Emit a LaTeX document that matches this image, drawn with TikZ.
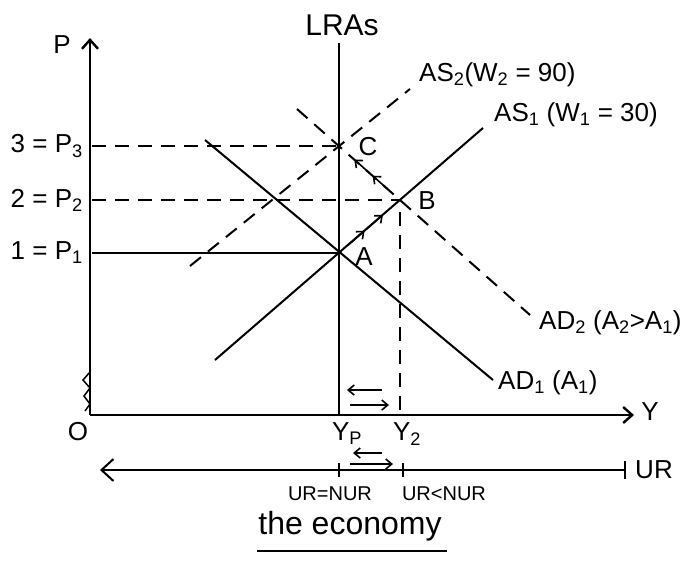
\documentclass[tikz,border=0pt]{standalone}
\usepackage{fontspec}
\setmainfont{Liberation Sans}
\usetikzlibrary{arrows.meta,calc}
\tikzset{
  axis/.style={line width=2.6pt, -{Straight Barb[length=9pt,width=16pt,line width=2.4pt]}},
  curve/.style={line width=2pt},
  dcurve/.style={line width=2pt, dash pattern=on 14pt off 9pt},
  nudge/.style={line width=1.6pt, -{Straight Barb[length=6pt,width=10pt]}},
  lbl/.style={font=\fontsize{26}{28}\selectfont, inner sep=1pt},
  small/.style={font=\fontsize{20}{22}\selectfont, inner sep=1pt},
}

\begin{document}
\begin{tikzpicture}[x=1pt,y=-1pt]
  \useasboundingbox (0,0) rectangle (688,560);
  % key points
  \coordinate (O) at (90,415);
  \coordinate (A) at (339,253);
  \coordinate (B) at (400,200);
  \coordinate (C) at (339,146);
  % axes
  \draw[axis] (O) -- (90,38);
  \draw[axis] (O) -- (634,415);
  \draw[line width=1.5pt] (90,372) -- (83,380) -- (90,388) -- (84,396) -- (90,404) -- (85,411);
  \node[lbl] (plab) at (62,45) {P};
  \node[lbl] (ylab) at (650,412) {Y};
  \node[lbl] (olab) at (78,432) {O};
  % LRAS
  \draw[line width=2.4pt] (339,43) -- (339,415);
  \node[lbl,font=\fontsize{30}{32}\selectfont] (lras) at (342,25) {LRAs};
  % price levels
  \draw[curve] (92,253) -- (A);
  \draw[dcurve] (92,200) -- (B);
  \draw[dcurve] (92,146) -- (C);
  \node[lbl,anchor=east] (p3) at (84,146) {3 = P\textsubscript{3}};
  \node[lbl,anchor=east] (p2) at (84,200) {2 = P\textsubscript{2}};
  \node[lbl,anchor=east] (p1) at (84,253) {1 = P\textsubscript{1}};
  % AS and AD curves
  \draw[curve] (215,360) -- (483,128);
  \draw[dcurve] (190,266) -- (410,89);
  \draw[curve] (205,140) -- (493,380);
  \draw[dcurve] (297,109) -- (530,315);
  \node[lbl,anchor=west] (as2) at (418,75) {AS\textsubscript{2}(W\textsubscript{2} = 90)};
  \node[lbl,anchor=west] (as1) at (493,115) {AS\textsubscript{1} (W\textsubscript{1} = 30)};
  \node[lbl,anchor=west] (ad2) at (538,323) {AD\textsubscript{2} (A\textsubscript{2}>A\textsubscript{1})};
  \node[lbl,anchor=west] (ad1) at (497,383) {AD\textsubscript{1} (A\textsubscript{1})};
  \node[lbl] (alab) at (364,257) {A};
  \node[lbl] (blab) at (427,201) {B};
  \node[lbl] (clab) at (368,147) {C};
  % moves A -> B -> C
  \draw[nudge] ($(A)!0.15!(B)$) -- ($(A)!0.42!(B)$);
  \draw[nudge] ($(A)!0.45!(B)$) -- ($(A)!0.72!(B)$);
  \draw[nudge] ($(B)!0.2!(C)$) -- ($(B)!0.45!(C)$);
  \draw[nudge] ($(B)!0.5!(C)$) -- ($(B)!0.75!(C)$);
  % output gap
  \draw[dcurve] (400,212) -- (400,415);
  \node[lbl] (yp) at (347,434) {Y\textsubscript{P}};
  \node[lbl] (y2) at (407,434) {Y\textsubscript{2}};
  \draw[nudge] (382,390) -- (347,390);
  \draw[nudge] (350,405) -- (389,405);
  % unemployment line
  \draw[line width=2pt, {Straight Barb[length=12pt,width=22pt,line width=2pt]}-] (100,470) -- (625,470);
  \draw[line width=2pt] (625,461) -- (625,479);
  \draw[line width=2pt] (339,463) -- (339,477);
  \draw[line width=2pt] (403,463) -- (403,477);
  \draw[nudge] (382,453) -- (353,453);
  \draw[nudge] (350,464) -- (393,464);
  \node[lbl] (ur) at (654,470) {UR};
  \node[small] (urn) at (330,494) {UR=NUR};
  \node[small] (urlt) at (444,494) {UR<NUR};
  % caption
  \node[lbl,font=\fontsize{32}{34}\selectfont] (econ) at (350,526) {the economy};
  \draw[line width=1.8pt] (257,551) -- (447,551);
\end{tikzpicture}
\end{document}
